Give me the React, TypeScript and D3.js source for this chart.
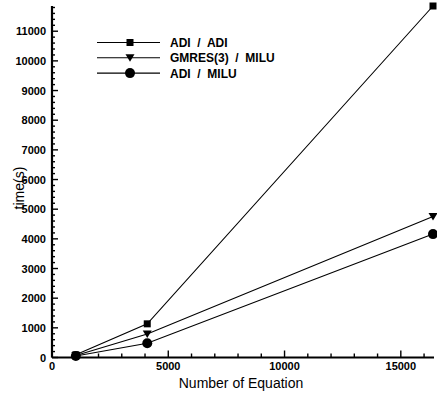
import React from 'react';
import * as d3 from 'd3';

const equations = [1024, 4096, 16384];
const adiAdi = [90, 1135, 11850];
const gmresMilu = [70, 790, 4750];
const adiMilu = [50, 480, 4160];
const xTicks = [0, 5000, 10000, 15000];
const yTicks = [0, 1000, 2000, 3000, 4000, 5000, 6000, 7000, 8000, 9000, 10000, 11000];

const series = [
  { name: 'ADI  /  ADI', values: adiAdi, marker: 'square' },
  { name: 'GMRES(3)  /  MILU', values: gmresMilu, marker: 'triangle' },
  { name: 'ADI  /  MILU', values: adiMilu, marker: 'circle' },
];

const font = 'Arial, "Liberation Sans", Helvetica, sans-serif';

const Marker = ({ kind, x, y }: { kind: string; x: number; y: number }) => {
  if (kind === 'square') return <rect x={x - 3.5} y={y - 3.5} width={7} height={7} fill="#000" />;
  if (kind === 'triangle')
    return <path d={`M${x - 4.5},${y - 3.5}L${x + 4.5},${y - 3.5}L${x},${y + 4}Z`} fill="#000" />;
  return <circle cx={x} cy={y} r={5} fill="#000" />;
};

export default function App() {
  const x = d3.scaleLinear().domain([0, 16384]).range([52, 433]);
  const y = d3.scaleLinear().domain([0, 11850]).range([357.5, 6]);
  const line = d3.line<number>().x((d, i) => x(equations[i])).y(d => y(d));
  const xMinor = d3.range(0, 16385, 1000);
  const yMinor = d3.range(0, 11851, 200);

  return (
    <svg width={437} height={393} style={{ position: 'absolute', left: 0, top: 0 }} fontFamily={font}>
      <rect width={437} height={393} fill="#fff" />
      {series.map(s => (
        <g key={s.name}>
          <path d={line(s.values) || ''} fill="none" stroke="#000" strokeWidth={1.1} />
          {s.values.map((v, i) => (
            <Marker key={i} kind={s.marker} x={x(equations[i])} y={y(v)} />
          ))}
        </g>
      ))}
      {/* axes */}
      <line x1={x(0)} x2={x(0)} y1={y(11850)} y2={y(0)} stroke="#000" strokeWidth={2.2} />
      <line x1={x(0)} x2={x(16384) + 1} y1={y(0)} y2={y(0)} stroke="#000" strokeWidth={2.2} />
      {yMinor.map(t => (
        <line key={'ym' + t} x1={x(0)} x2={x(0) + (t % 1000 === 0 ? 6 : 3)} y1={y(t)} y2={y(t)} stroke="#000" strokeWidth={1.4} />
      ))}
      {xMinor.map(t => (
        <line key={'xm' + t} x1={x(t)} x2={x(t)} y1={y(0)} y2={y(0) - (t % 5000 === 0 ? 7 : 4)} stroke="#000" strokeWidth={1.4} />
      ))}
      {yTicks.map(t => (
        <text key={'yl' + t} x={46} y={y(t) + 4} textAnchor="end" fontSize={11} fontWeight="bold">
          {t}
        </text>
      ))}
      {xTicks.map(t => (
        <text key={'xl' + t} x={x(t)} y={370} textAnchor="middle" fontSize={11} fontWeight="bold">
          {t}
        </text>
      ))}
      <text x={241} y={387.5} textAnchor="middle" fontSize={14}>
        Number of Equation
      </text>
      <text transform="translate(24,188) rotate(-90)" textAnchor="middle" fontSize={14}>
        time(s)
      </text>
      {/* legend */}
      {series.map((s, i) => {
        const ly = 42.5 + i * 15.3;
        return (
          <g key={'lg' + s.name}>
            <line x1={97} x2={160} y1={ly} y2={ly} stroke="#000" strokeWidth={1.1} />
            <Marker kind={s.marker} x={130} y={ly} />
            <text x={170} y={ly + 4.5} fontSize={12} fontWeight="bold" style={{ whiteSpace: 'pre' }}>
              {s.name}
            </text>
          </g>
        );
      })}
    </svg>
  );
}
